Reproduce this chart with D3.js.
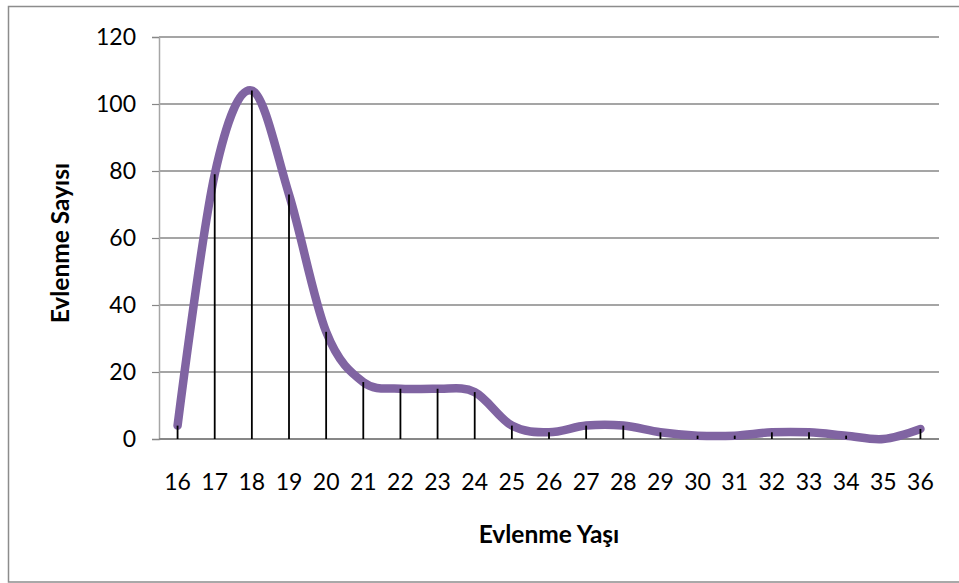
<!DOCTYPE html>
<html>
<head>
<meta charset="utf-8">
<script src="https://cdn.jsdelivr.net/npm/d3@7"></script>
<style>
html,body{margin:0;padding:0;background:#fff;}
svg{display:block;}
</style>
</head>
<body>
<svg id="chart" width="959" height="583"></svg>
<script>
const ages = ["16","17","18","19","20","21","22","23","24","25","26","27","28","29","30","31","32","33","34","35","36"];
const counts = [4,79,104,73,32,17,15,15,14,4,2,4,4,2,1,1,2,2,1,0,3];
const yTicks = [0,20,40,60,80,100,120];
const xTitle = "Evlenme Yaşı";
const yTitle = "Evlenme Sayısı";

const svg = d3.select("#chart");
const W = 959, H = 583;
const m = {left:159, top:37};
const pw = 939 - m.left, ph = 439 - m.top;
const font = "Lato, 'Open Sans', sans-serif";

// outer border
svg.append("rect").attr("x",8.5).attr("y",6.5).attr("width",W+10).attr("height",575.5)
  .attr("fill","none").attr("stroke","#8c8c8c").attr("stroke-width",1.5);

const g = svg.append("g").attr("transform",`translate(${m.left},${m.top})`);

const x = d3.scaleBand().domain(ages).range([0,pw]).paddingInner(0).paddingOuter(0);
const y = d3.scaleLinear().domain([0,120]).range([ph,0]);
const cx = d => x(d) + x.bandwidth()/2;

// gridlines
g.append("g").selectAll("line").data(yTicks.filter(t=>t>0)).join("line")
  .attr("x1",0).attr("x2",pw).attr("y1",d=>y(d)).attr("y2",d=>y(d))
  .attr("stroke","#878787").attr("stroke-width",1.5);

// y axis
const yAxis = g.append("g").call(d3.axisLeft(y).tickValues(yTicks).tickSize(7).tickPadding(16));
yAxis.select(".domain").attr("stroke","#a6a6a6").attr("stroke-width",1.5);
yAxis.selectAll(".tick line").attr("stroke","#878787").attr("stroke-width",1.2);
yAxis.selectAll(".tick text").attr("font-family",font).attr("font-size",23).attr("fill","#000");

// x axis line
g.append("line").attr("x1",0).attr("x2",pw).attr("y1",ph).attr("y2",ph)
  .attr("stroke","#878787").attr("stroke-width",2);

// x labels
g.append("g").selectAll("text").data(ages).join("text")
  .attr("x",d=>cx(d)).attr("y",ph+51).attr("text-anchor","middle")
  .attr("font-family",font).attr("font-size",23).attr("fill","#000").text(d=>d);

// smooth line
const line = d3.line().x((d,i)=>cx(ages[i])).y(d=>y(d)).curve(d3.curveCardinal.tension(0));
g.append("path").datum(counts).attr("d",line)
  .attr("fill","none").attr("stroke","#8064A2").attr("stroke-width",8.5)
  .attr("stroke-linecap","round").attr("stroke-linejoin","round");

// drop lines
g.append("g").selectAll("line").data(ages).join("line")
  .attr("x1",d=>cx(d)).attr("x2",d=>cx(d))
  .attr("y1",(d,i)=>y(counts[i])).attr("y2",ph)
  .attr("stroke","#000").attr("stroke-width",1.8);

// titles
svg.append("text").attr("x",549).attr("y",543).attr("text-anchor","middle")
  .attr("font-family",font).attr("font-weight","bold").attr("font-size",24.5).attr("fill","#000").text(xTitle);
svg.append("text").attr("transform","translate(69,243) rotate(-90)").attr("text-anchor","middle")
  .attr("font-family",font).attr("font-weight","bold").attr("font-size",24.5).attr("fill","#000").text(yTitle);
</script>
</body>
</html>
